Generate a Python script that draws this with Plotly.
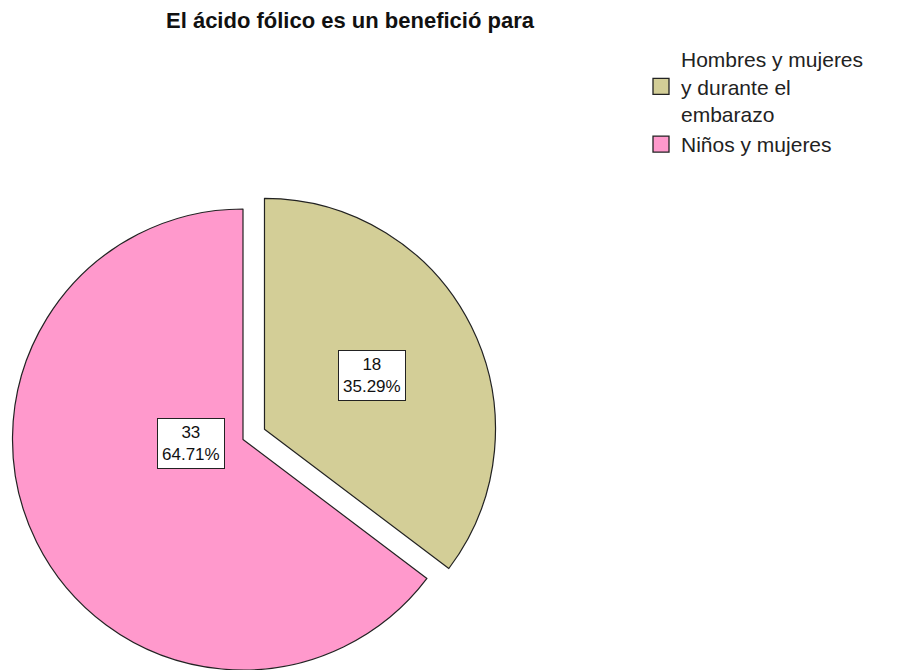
import math
import plotly.graph_objects as go

# ---- data ----
title_text = "El ácido fólico es un benefició para"
categories = ["Hombres y mujeres<br>y durante el<br>embarazo", "Niños y mujeres"]
counts = [18, 33]
colors = ["#D3CE97", "#FF99CC"]

W, H = 900, 670
total = sum(counts)
pcts = [c / total * 100 for c in counts]

# geometry (pixels)
R = 231
cx0, cy0 = 243, 440          # centre of the un-pulled pie
pull_px = 24                 # explode distance of the first slice

# bisector of first slice (clockwise from 12 o'clock)
ang0 = counts[0] / total * 360 / 2
dx = pull_px * math.sin(math.radians(ang0))
dy = -pull_px * math.cos(math.radians(ang0))


def domain(cx, cy, r):
    x0 = max(0.0, (cx - r) / W)
    x1 = min(1.0, (cx + r) / W)
    y1 = min(1.0, 1 - (cy - r) / H)
    y0 = max(0.0, 1 - (cy + r) / H)
    return dict(x=[x0, x1], y=[y0, y1])


fig = go.Figure()

# slice traces: each trace shows one slice, the other is transparent
for k in range(len(counts)):
    cols = [colors[i] if i == k else "rgba(0,0,0,0)" for i in range(len(counts))]
    lw = [1.2 if i == k else 0 for i in range(len(counts))]
    if k == 0:
        dom = domain(cx0 + dx, cy0 + dy, R)
    else:
        dom = domain(cx0, cy0, R)
    fig.add_trace(go.Pie(
        labels=categories, values=counts, sort=False, direction="clockwise",
        rotation=0, textinfo="none", hoverinfo="label+value+percent",
        marker=dict(colors=cols, line=dict(color="#222222", width=lw)),
        domain=dom, showlegend=False,
    ))

# legend entries
for lab, col in zip(categories, colors):
    fig.add_trace(go.Scatter(
        x=[None], y=[None], mode="markers", name=lab,
        marker=dict(symbol="square", size=16, color=col,
                    line=dict(color="#222222", width=1.3)),
    ))

# value labels
ann = []
# first slice label along its bisector
r_frac0 = 0.52
lx0 = cx0 + dx + r_frac0 * R * math.sin(math.radians(ang0))
ly0 = cy0 + dy - r_frac0 * R * math.cos(math.radians(ang0))
# second slice label
lx1, ly1 = 157, 443
for (lx, ly), c, p in zip([(lx0, ly0), (lx1, ly1)], counts, pcts):
    ann.append(dict(
        x=lx / W, y=1 - ly / H, xref="paper", yref="paper",
        text=f"{c}<br>{p:.2f}%", showarrow=False,
        font=dict(family="Liberation Sans, Arial", size=17, color="#111111"),
        bgcolor="white", bordercolor="#222222", borderwidth=1, borderpad=4,
        align="center",
    ))

fig.update_layout(
    width=W, height=H,
    margin=dict(l=0, r=0, t=0, b=0),
    paper_bgcolor="white", plot_bgcolor="white",
    title=dict(text=f"<b>{title_text}</b>", x=350 / W, xanchor="center",
               y=1 - 20 / H, yanchor="middle",
               font=dict(family="Liberation Sans, Arial", size=22, color="#111111")),
    xaxis=dict(visible=False), yaxis=dict(visible=False),
    showlegend=True,
    legend=dict(x=641 / W, xanchor="left", y=1 - 39 / H, yanchor="top",
                font=dict(family="Liberation Sans, Arial", size=21, color="#222222"),
                bgcolor="rgba(0,0,0,0)", tracegroupgap=0, valign="middle"),
    annotations=ann,
)

fig.write_html("out.html")
